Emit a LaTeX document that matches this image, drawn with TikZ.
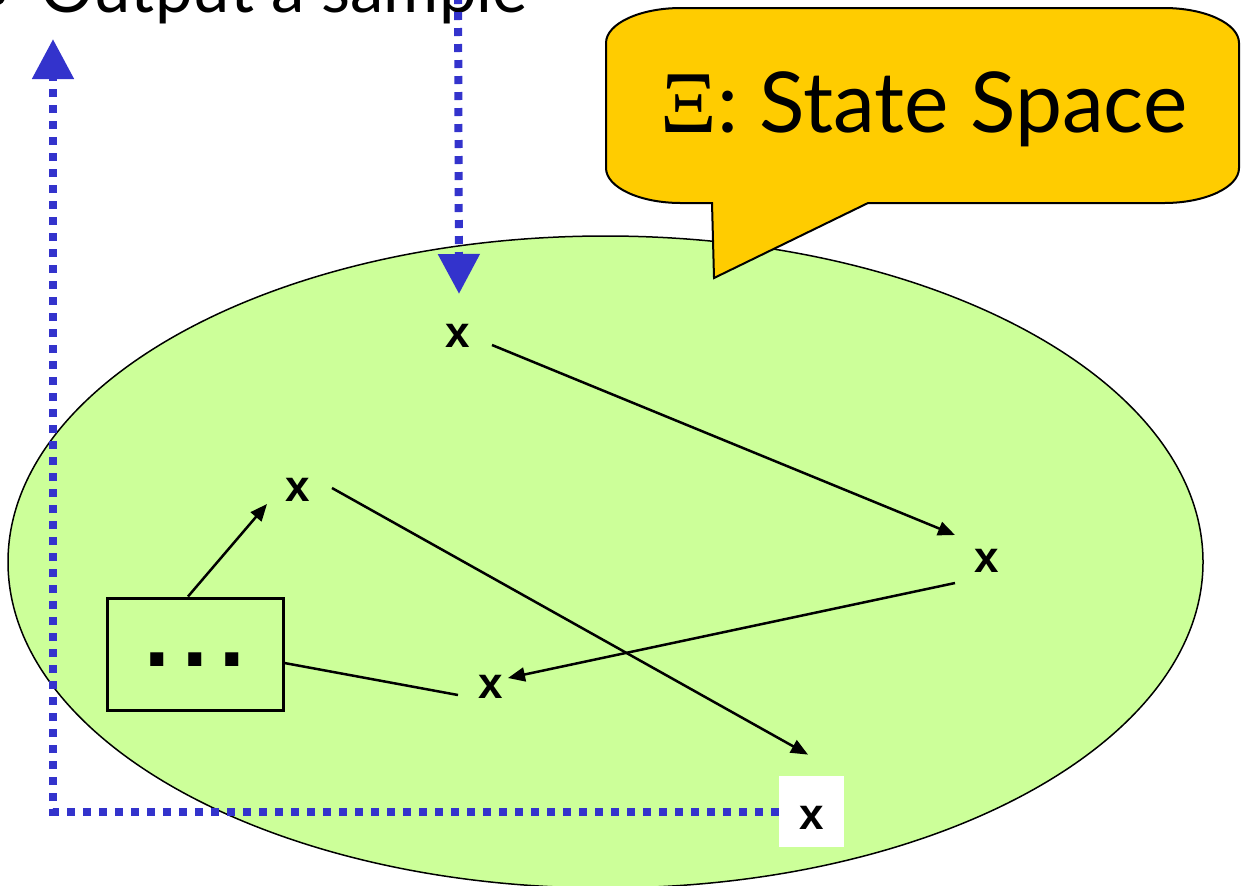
\documentclass[tikz,border=0pt]{standalone}
\usepackage{fontspec}
\setmainfont{Lato}
\newfontfamily\xfont{Liberation Sans}
\newfontfamily\grfont{Liberation Serif}
\usetikzlibrary{arrows.meta,calc}
\definecolor{ellgreen}{HTML}{CCFF99}
\definecolor{callyellow}{HTML}{FFCC00}
\definecolor{flowblue}{HTML}{3333CC}
\begin{document}
\begin{tikzpicture}[x=0.5pt,y=-0.5pt,
  xnode/.style={font=\xfont\bfseries\fontsize{22}{22}\selectfont, inner sep=0pt},
  flow/.style={draw=flowblue, line width=4pt, dash pattern=on 4pt off 4pt,
    -{Triangle[width=20pt,length=20pt,fill=flowblue]}},
  trans/.style={line width=1.25pt, -{Triangle[length=8.5pt,width=7pt]}},
  plain/.style={line width=1.25pt},
  big/.style={font=\fontsize{33.5}{40}\selectfont, inner sep=0pt},
  title/.style={font=\fontsize{42}{48}\selectfont, inner sep=0pt}]
\useasboundingbox (0,0) rectangle (1245,885);
\clip (0,0) rectangle (1245,885);
% state space
\draw[fill=ellgreen, line width=0.75pt] (605.5,562) ellipse [x radius=597.5, y radius=326];
% callout
\draw[fill=callyellow, line width=1pt, line join=miter]
  (606,43) .. controls (606,23.7) and (639.6,8) .. (681,8) -- (1164,8)
  .. controls (1205.4,8) and (1239,23.7) .. (1239,43) -- (1239,168)
  .. controls (1239,187.3) and (1205.4,203) .. (1164,203) -- (868,203) -- (714,278) -- (712,203)
  -- (681,203) .. controls (639.6,203) and (606,187.3) .. (606,168) -- cycle;
\node[title, anchor=base west] (titletext) at (660,132) {{\grfont\fontsize{44}{46}\selectfont Ξ}: State Space};
% output label
\fill (-3,-3) circle[radius=8];
\node[big, anchor=base west] (out) at (40,12) {Output a sample};
% states
\node[xnode] (x1) at (458,336) {x};
\node[xnode] (x2) at (298,490) {x};
\node[xnode] (x3) at (987,561) {x};
\node[xnode] (x4) at (491,687) {x};
\node[xnode, fill=white, minimum width=32.5pt, minimum height=35.5pt, text height=17.5pt, text depth=0pt] (x5) at (811.5,811.5) {x};
% box
\node[draw, line width=1.5pt, minimum width=88pt, minimum height=56pt, inner sep=0pt] (box) at (195,654) {};
\node[font=\xfont\bfseries\fontsize{46}{46}\selectfont, inner sep=0pt] (dots) at (195,659.5) {.\kern6pt.\kern6pt.};
% transitions
\draw[trans] ($(x1)+(34,9)$) -- ($(x3)+(-32,-26)$);
\draw[trans] ($(x3)+(-32,22)$) -- ($(x4)+(17,-9)$);
\draw[trans] ($(x2)+(34,-2)$) -- ($(x5.north)+(-3.5,-21)$);
\draw[trans] ($(box.north)+(-7,0)$) -- ($(x2)+(-31,14)$);
\draw[plain] ($(box.east)+(0,9)$) -- ($(x4)+(-33,8)$);
% blue flow
\coordinate (inTop) at (458,-20);
\coordinate (outTip) at (53,39);
\draw[flow] (inTop) -- ($(x1)+(1,-42)$);
\draw[flow] (x5.west) -- (x5.west -| outTip) -- (outTip);
\end{tikzpicture}
\end{document}
